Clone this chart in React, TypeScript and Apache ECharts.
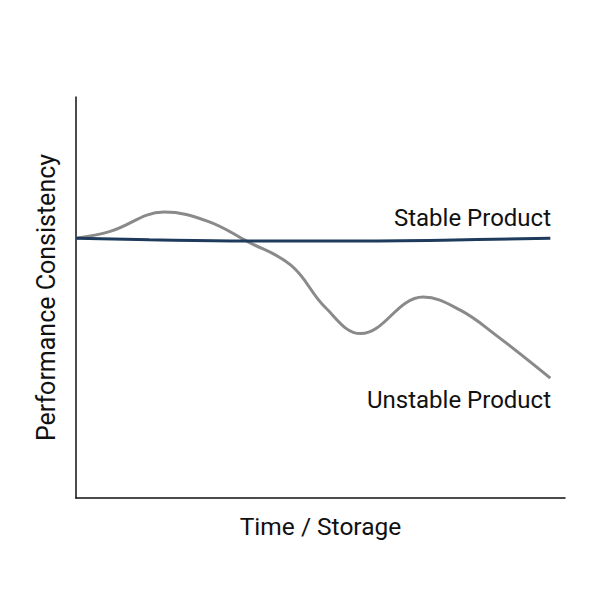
import { useEffect, useRef } from "react";
import * as echarts from "echarts";

// x: time / storage (0..100), y: performance consistency (0..100)
const STABLE_X = [0, 15, 35, 55, 75, 97];
const STABLE_Y = [64.8, 64.4, 64.1, 64.1, 64.3, 64.8];

const UNSTABLE_X = [0, 7, 18, 27, 35, 44, 51, 58.2, 71, 78.5, 86, 97];
const UNSTABLE_Y = [64.8, 66.5, 71.3, 69, 64, 58, 47.5, 41, 50.1, 46.9, 40.5, 29.9];

const LABELS = ["Stable Product", "Unstable Product"];
const X_NAME = "Time / Storage";
const Y_NAME = "Performance Consistency";

const FONT = "Roboto, 'Noto Sans', sans-serif";

export default function App() {
  const ref = useRef<HTMLDivElement>(null);

  useEffect(() => {
    if (!ref.current) return;
    const chart = echarts.init(ref.current, null, { renderer: "svg" });

    const axisLine = { show: true, lineStyle: { color: "#111", width: 1.5 } };

    chart.setOption({
      animation: false,
      backgroundColor: "#fff",
      textStyle: { fontFamily: FONT },
      grid: { left: 76, top: 97, width: 489, height: 401 },
      xAxis: {
        type: "value",
        min: 0,
        max: 100,
        name: X_NAME,
        nameLocation: "middle",
        nameGap: 16,
        nameTextStyle: { fontSize: 24.5, color: "#111", fontFamily: FONT },
        axisLine,
        axisTick: { show: false },
        axisLabel: { show: false },
        splitLine: { show: false },
      },
      yAxis: {
        type: "value",
        min: 0,
        max: 100,
        name: Y_NAME,
        nameLocation: "middle",
        nameGap: 17,
        nameTextStyle: { fontSize: 25, color: "#111", fontFamily: FONT },
        axisLine,
        axisTick: { show: false },
        axisLabel: { show: false },
        splitLine: { show: false },
      },
      series: [
        {
          name: LABELS[1],
          type: "line",
          smooth: 0.4,
          showSymbol: false,
          data: UNSTABLE_X.map((x, i) => [x, UNSTABLE_Y[i]]),
          lineStyle: { color: "#8a8a8a", width: 3 },
          z: 2,
        },
        {
          name: LABELS[0],
          type: "line",
          smooth: 0.4,
          showSymbol: false,
          data: STABLE_X.map((x, i) => [x, STABLE_Y[i]]),
          lineStyle: { color: "#1e3a5c", width: 3 },
          z: 3,
        },
      ],
      graphic: [
        {
          type: "text",
          right: 49,
          top: 206,
          style: { text: LABELS[0], fontSize: 24, fill: "#111", fontFamily: FONT },
        },
        {
          type: "text",
          right: 49,
          top: 388,
          style: { text: LABELS[1], fontSize: 24, fill: "#111", fontFamily: FONT },
        },
      ],
    });

    return () => chart.dispose();
  }, []);

  return (
    <div
      ref={ref}
      style={{ position: "fixed", left: 0, top: 0, width: "600px", height: "600px" }}
    />
  );
}
